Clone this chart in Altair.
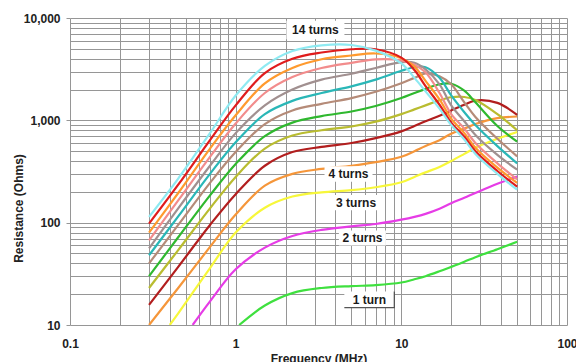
import altair as alt
import pandas as pd

# Frequency sample points (MHz) shared by the 4..14 turn curves
freq = [0.3, 0.45, 0.7, 1, 1.5, 2.2, 3.3, 5, 7, 10, 12, 14, 17, 20, 24, 28, 38, 50]
# The low-turn curves enter the plot above its bottom edge (10 ohms)
freq_1 = [1.05, 1.5, 2.2, 3.3, 5, 7, 10, 12, 14, 17, 20, 24, 28, 38, 50]
freq_2 = [0.55, 0.7, 1, 1.5, 2.2, 3.3, 5, 7, 10, 12, 14, 17, 20, 24, 28, 38, 50]
freq_3 = [0.4, 0.45, 0.7, 1, 1.5, 2.2, 3.3, 5, 7, 10, 12, 14, 17, 20, 24, 28, 38, 50]

# Resistance (ohms) for each number of turns
r_1 = [10, 15.5, 20.5, 23, 24, 24.5, 26, 28, 30, 33.5, 37, 41.5, 46, 55, 65]
r_2 = [10, 17, 35, 57, 74, 85, 92, 97, 107, 114, 122, 137, 155, 175, 195, 240, 282]
r_3 = [10, 13, 36, 80, 140, 180, 198, 208, 222, 248, 280, 310, 350, 400, 470, 540, 660, 770]
r_4 = [10, 23, 58, 120, 230, 300, 335, 360, 390, 440, 500, 560, 640, 740, 830, 920, 1050, 1090]
r_5 = [15.7, 37, 95, 190, 360, 490, 550, 600, 670, 780, 880, 980, 1110, 1250, 1420, 1560, 1480, 1130]
r_6 = [23, 54, 138, 280, 530, 710, 800, 870, 970, 1150, 1280, 1400, 1570, 1680, 1690, 1580, 1150, 800]
r_7 = [30, 72, 185, 375, 700, 950, 1100, 1220, 1380, 1650, 1850, 2030, 2250, 2280, 1950, 1500, 880, 620]
r_8 = [40, 95, 245, 490, 920, 1250, 1450, 1650, 1900, 2300, 2600, 2870, 2700, 2250, 1500, 1080, 660, 445]
r_9 = [48, 115, 300, 610, 1150, 1550, 1850, 2150, 2500, 3050, 3300, 3300, 2600, 1750, 1200, 900, 560, 380]
r_10 = [56, 138, 360, 750, 1400, 2000, 2500, 2850, 3250, 3700, 3650, 3150, 2250, 1400, 980, 720, 460, 330]
r_11 = [67, 165, 440, 930, 1850, 2650, 3250, 3650, 3950, 3850, 3500, 2950, 1850, 1150, 830, 600, 380, 265]
r_12 = [80, 195, 530, 1120, 2300, 3250, 3950, 4300, 4500, 4050, 3350, 2430, 1600, 1040, 750, 540, 345, 245]
r_13 = [98, 235, 640, 1400, 2900, 4000, 4600, 4950, 4950, 4100, 3100, 2160, 1420, 950, 690, 500, 320, 225]
r_14 = [114, 270, 750, 1750, 3400, 4750, 5400, 5450, 4800, 3600, 2600, 1920, 1300, 900, 650, 470, 300, 210]

series_names = [f"{n} turn" if n == 1 else f"{n} turns" for n in range(1, 15)]
series_freqs = [freq_1, freq_2, freq_3] + [freq] * 11
series_values = [r_1, r_2, r_3, r_4, r_5, r_6, r_7, r_8, r_9, r_10, r_11, r_12, r_13, r_14]
series_colors = [
    "#3fe03f", "#e63ce6", "#f7f73a", "#f5963a", "#b21e1e", "#b9bc30", "#2fb82f",
    "#b58b78", "#2ab7b7", "#a19090", "#f28c8c", "#ff9a2e", "#e01c1c", "#8eeaf2",
]

# Callout labels: text, frequency, resistance, box width (px)
label_text = ["14 turns", "4 turns", "3 turns", "2 turns", "1 turn"]
label_freq = [3.03, 4.8, 5.33, 5.82, 6.41]
label_ohms = [7650, 299, 157, 70.8, 17.7]
label_box = [58, 48, 47, 47, 50]

rows = []
for name, fs, rs in zip(series_names, series_freqs, series_values):
    for f, r in zip(fs, rs):
        rows.append({"series": name, "freq": f, "ohms": r})
curves = pd.DataFrame(rows)

labels = pd.DataFrame({
    "text": label_text,
    "freq": label_freq,
    "ohms": label_ohms,
    "box": [w * w for w in label_box],
})

grid_x = [m * 10.0 ** e for e in (-1, 0, 1) for m in range(1, 10)] + [100.0]
grid_y = [m * 10.0 ** e for e in (1, 2, 3) for m in range(1, 10)] + [10000.0]

decade = "abs(log(datum.value) / LN10 - round(log(datum.value) / LN10)) < 0.001"
FONT = "Liberation Sans"
GRID = "#969696"

x_enc = alt.X(
    "freq:Q",
    scale=alt.Scale(type="log", domain=[0.1, 100], nice=False),
    axis=alt.Axis(
        values=grid_x,
        labelExpr=f"{decade} ? format(datum.value, '~g') : ''",
        grid=True, gridColor=GRID, gridWidth=1,
        domain=False, ticks=False,
        labelFlush=False, labelOverlap=False,
        labelFont=FONT, labelFontSize=12, labelFontWeight="bold", labelColor="#222222",
        labelPadding=13,
        title="Frequency  (MHz)", titleFont=FONT, titleFontSize=12, titleFontWeight="bold",
        titleColor="#222222", titleY=28, titleBaseline="top",
    ),
)
y_enc = alt.Y(
    "ohms:Q",
    scale=alt.Scale(type="log", domain=[10, 10000], nice=False),
    axis=alt.Axis(
        values=grid_y,
        labelExpr=f"{decade} ? format(datum.value, ',') : ''",
        grid=True, gridColor=GRID, gridWidth=1,
        domain=False, ticks=True, tickSize=4, tickColor=GRID,
        tickOpacity=alt.condition(decade, alt.value(1), alt.value(0)),
        labelFlush=False, labelOverlap=False,
        labelFont=FONT, labelFontSize=12, labelFontWeight="bold", labelColor="#222222",
        labelPadding=6,
        title="Resistance (Ohms)", titleFont=FONT, titleFontSize=12, titleFontWeight="bold",
        titleColor="#222222", titleX=-52, titleY=190, titleBaseline="middle",
    ),
)

lines = alt.Chart(curves).mark_line(
    strokeWidth=2.2, interpolate="catmull-rom", clip=True
).encode(
    x=x_enc,
    y=y_enc,
    color=alt.Color("series:N", scale=alt.Scale(domain=series_names, range=series_colors), legend=None),
)

box_path = "M-1,-0.32H1V0.32H-1Z"
boxes = alt.Chart(labels).mark_point(
    shape=box_path, filled=True, fill="white", opacity=1, strokeWidth=0
).encode(
    x="freq:Q", y="ohms:Q", size=alt.Size("box:Q", scale=None, legend=None)
)

# Shadowed right/bottom edge on the single-turn callout
shadow = alt.Chart(labels).transform_filter("datum.text == '1 turn'").mark_point(
    shape="M1,-0.32V0.32H-1", filled=False, stroke="#555555", strokeWidth=1.3, opacity=1
).encode(
    x="freq:Q", y="ohms:Q", size=alt.Size("box:Q", scale=None, legend=None)
)

texts = alt.Chart(labels).mark_text(
    font=FONT, fontSize=12, fontWeight="bold", color="#1a1a1a"
).encode(x="freq:Q", y="ohms:Q", text="text:N")

chart = alt.layer(lines, boxes, shadow, texts).properties(
    width=497,
    height=307,
    autosize="none",
    padding={"left": 70, "top": 18, "right": 9, "bottom": 37},
).configure_view(stroke=None)

chart.save("out.html", embed_options={"renderer": "svg", "actions": False})
